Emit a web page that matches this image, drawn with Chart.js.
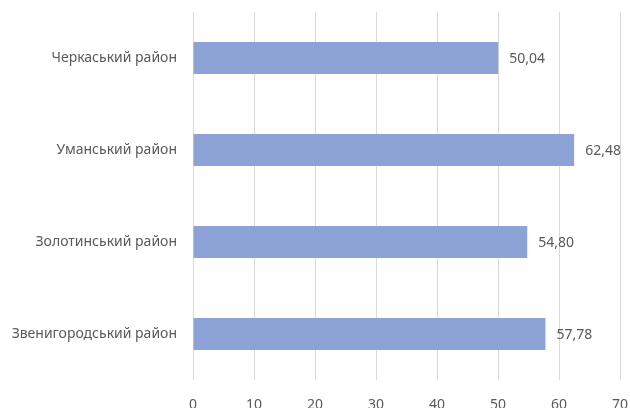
<!DOCTYPE html>
<html>
<head>
<meta charset="utf-8">
<script src="https://cdn.jsdelivr.net/npm/chart.js@4/dist/chart.umd.min.js"></script>
<style>
  html, body { margin: 0; padding: 0; background: #fff; overflow: hidden; }
  #wrap { width: 630px; height: 418px; }
</style>
</head>
<body>
<div id="wrap"><canvas id="myChart" width="630" height="418"></canvas></div>
<script>
const districts = ['Черкаський район', 'Уманський район', 'Золотинський район', 'Звенигородський район'];
const scores = [50.04, 62.48, 54.80, 57.78];
const xTicks = [0, 10, 20, 30, 40, 50, 60, 70];

const textColor = '#595959';
const fontFamily = "'Noto Sans', 'Open Sans', sans-serif";

// values next to each bar, with comma as decimal sign
const valueLabels = {
    id: 'valueLabels',
    afterDatasetsDraw(chart) {
        const ctx = chart.ctx;
        const meta = chart.getDatasetMeta(0);
        ctx.save();
        ctx.font = '14px ' + fontFamily;
        ctx.fillStyle = textColor;
        ctx.textAlign = 'left';
        ctx.textBaseline = 'middle';
        meta.data.forEach((bar, i) => {
            ctx.fillText(scores[i].toFixed(2).replace('.', ','), bar.x + 11, bar.y + 1);
        });
        ctx.restore();
    }
};

const ctx = document.getElementById('myChart');

const myChart = new Chart(ctx, {
    type: 'bar',
    data: {
        labels: districts,
        datasets: [{
            data: scores,
            backgroundColor: '#8EA3D5',
            borderWidth: 0,
            categoryPercentage: 1,
            barPercentage: 0.35
        }]
    },
    options: {
        indexAxis: 'y',
        responsive: false,
        animation: false,
        layout: { padding: { top: 12, right: 10, left: 0, bottom: 0 } },
        plugins: {
            legend: { display: false },
            tooltip: { enabled: false }
        },
        scales: {
            x: {
                min: 0,
                max: 70,
                afterBuildTicks: (scale) => {
                    scale.ticks = xTicks.map(v => ({ value: v }));
                },
                afterFit: (scale) => {
                    scale.height = 38;
                    scale.paddingLeft = 0;
                    scale.paddingRight = 0;
                },
                grid: { color: '#D9D9D9', lineWidth: 1, drawTicks: false },
                border: { display: false },
                ticks: {
                    color: textColor,
                    font: { family: fontFamily, size: 14 },
                    padding: 17
                }
            },
            y: {
                afterFit: (scale) => {
                    scale.width = 193;
                    scale.paddingTop = 0;
                    scale.paddingBottom = 0;
                },
                grid: { display: false, drawTicks: false },
                border: { display: false },
                ticks: {
                    color: textColor,
                    font: { family: fontFamily, size: 14 },
                    padding: 16
                }
            }
        }
    },
    plugins: [valueLabels]
});
</script>
</body>
</html>
